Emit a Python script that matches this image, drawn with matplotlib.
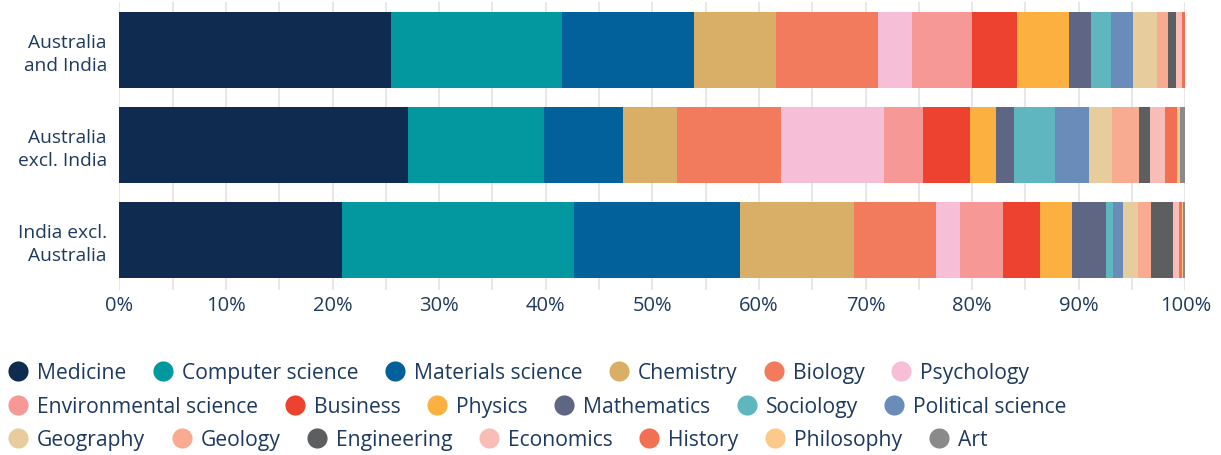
import matplotlib
matplotlib.use("Agg")
import matplotlib.pyplot as plt
from matplotlib.lines import Line2D
import numpy as np

categories = ["Australia\nand India", "Australia\nexcl. India", "India excl.\nAustralia"]
fields = ["Medicine", "Computer science", "Materials science", "Chemistry", "Biology",
          "Psychology", "Environmental science", "Business", "Physics", "Mathematics",
          "Sociology", "Political science", "Geography", "Geology", "Engineering",
          "Economics", "History", "Philosophy", "Art"]
aus_and_india = [25.5, 16.0, 12.4, 7.7, 9.6, 3.2, 5.6, 4.2, 4.9, 2.1, 1.8, 2.1, 2.2, 1.1, 0.75, 0.55, 0.25, 0.05, 0.0]
aus_excl_india = [27.1, 12.75, 7.4, 5.05, 9.75, 9.65, 3.7, 4.4, 2.45, 1.65, 3.9, 3.15, 2.15, 2.6, 1.0, 1.35, 1.15, 0.3, 0.5]
india_excl_aus = [20.9, 21.75, 15.55, 10.7, 7.7, 2.25, 4.05, 3.5, 3.0, 3.2, 0.65, 0.95, 1.4, 1.2, 2.0, 0.6, 0.3, 0.1, 0.2]
colors = ["#0f2b50", "#0397a0", "#02609b", "#d9af68", "#f27b5d", "#f7bed8", "#f59896",
          "#ee4230", "#fbb040", "#5f6683", "#5fb6be", "#698db8", "#e7cc9d", "#f8ab91",
          "#5c5e60", "#f9bdb8", "#f36f52", "#fdc98a", "#8a8a8a"]
legend_rows = [6, 6, 7]
xticks = [0, 10, 20, 30, 40, 50, 60, 70, 80, 90, 100]

TEXT = "#1e3a5f"
FONT = "Open Sans"
plt.rcParams['font.family'] = [FONT, 'DejaVu Sans']

W, H = 1221, 455
fig = plt.figure(figsize=(W / 100, H / 100), dpi=100)
ax = fig.add_axes([119.3 / W, 1 - 290 / H, (1185.3 - 119.3) / W, 288 / H])

data = np.array([aus_and_india, aus_excl_india, india_excl_aus])
y = np.arange(len(categories))
left = np.zeros(len(categories))
for j, f in enumerate(fields):
    ax.barh(y, data[:, j], left=left, height=0.8, color=colors[j], linewidth=0, zorder=2)
    left += data[:, j]

ax.set_xlim(0, 100)
ax.set_ylim(2.526, -0.505)
ax.set_xticks(xticks)
ax.set_xticklabels([f"{t}%" for t in xticks])
ax.set_xticks(np.arange(5, 100, 10), minor=True)
ax.set_yticks(y)
ax.set_yticklabels(categories, linespacing=1.35, ha="right")
ax.grid(axis="x", which="both", color="#e3e3e3", linewidth=1.2, zorder=0)
ax.tick_params(axis="x", which="both", length=0, pad=4, labelsize=14.5, labelcolor=TEXT)
ax.tick_params(axis="y", length=0, pad=9, labelsize=13.8, labelcolor=TEXT)
for s in ax.spines.values():
    s.set_visible(False)

# flow legend
fig.canvas.draw()
renderer = fig.canvas.get_renderer()
row_y = [371, 405, 438]
idx = 0
for r, n in enumerate(legend_rows):
    x = 8.5
    yy = 1 - row_y[r] / H
    for k in range(n):
        name = fields[idx]
        col = colors[idx]
        fig.add_artist(Line2D([(x + 9.5) / W], [yy], marker="o", markersize=14.5,
                              color=col, markeredgewidth=0, linestyle="none",
                              transform=fig.transFigure))
        t = fig.text((x + 28.5) / W, yy, name, fontsize=15.2, color=TEXT,
                     va="center_baseline", ha="left")
        bb = t.get_window_extent(renderer)
        x = bb.x1 + 27
        idx += 1

fig.savefig("out.png", dpi=100)
